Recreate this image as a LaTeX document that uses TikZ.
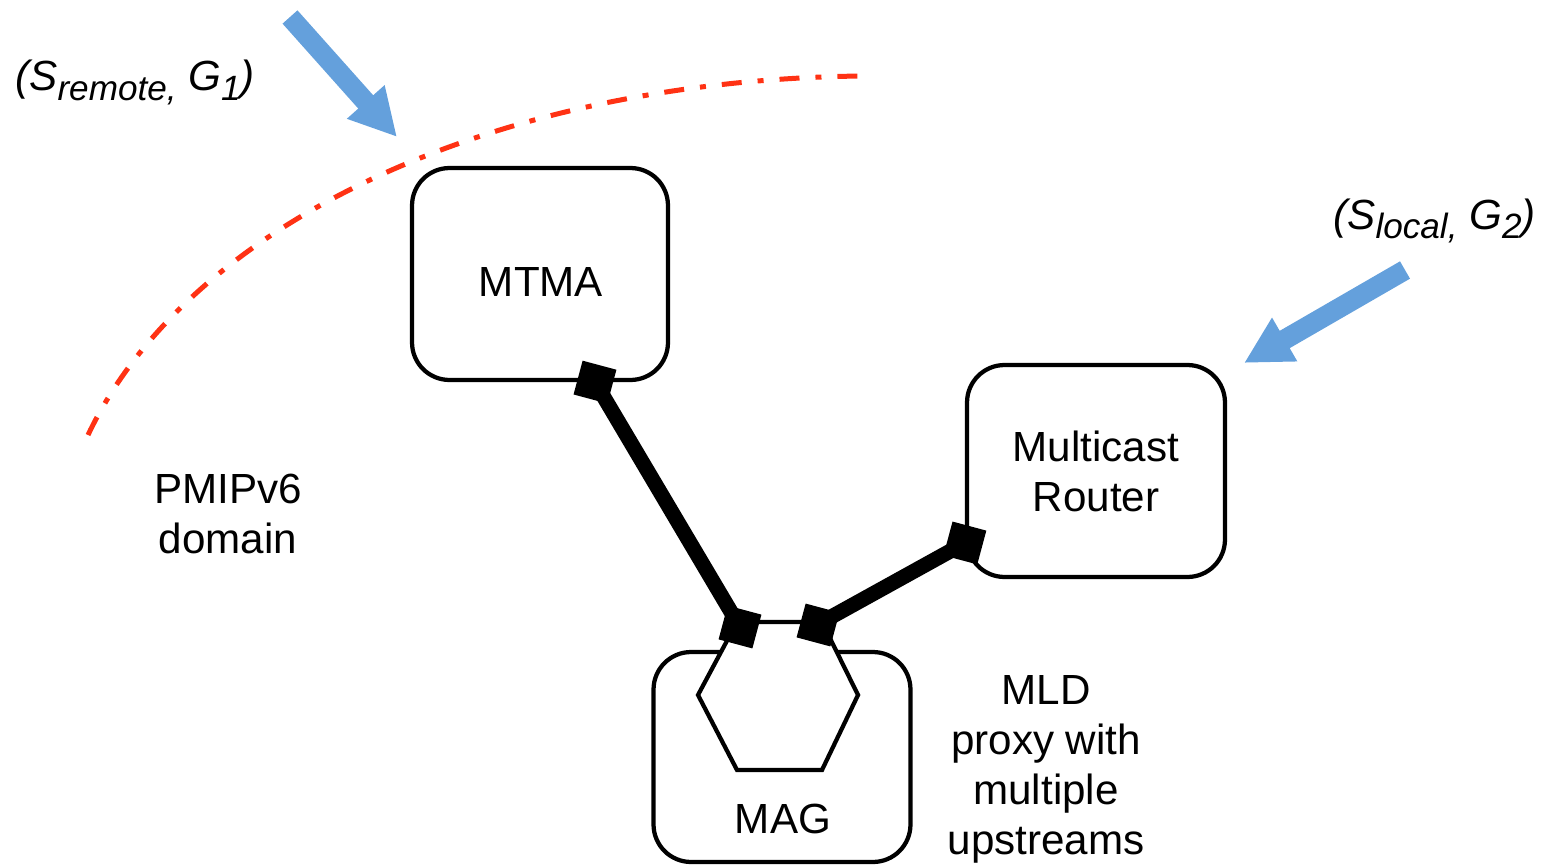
\documentclass[tikz,border=0pt]{standalone}
\usepackage{fontspec}
\setmainfont{Liberation Sans}
\usetikzlibrary{arrows.meta}
\definecolor{flowblue}{RGB}{100,160,220}
\definecolor{domainred}{RGB}{255,50,20}

\begin{document}
\begin{tikzpicture}[x=0.02cm,y=-0.02cm,
   box/.style={draw,line width=0.085cm,rounded corners=0.75cm,fill=white,
      inner sep=0pt,align=center,font=\fontsize{24}{28.5}\selectfont},
   lbl/.style={inner sep=0pt,align=center,font=\fontsize{24}{28.5}\selectfont},
   flowlbl/.style={inner sep=0pt,font=\fontsize{24}{28}\selectfont\itshape},
   flow/.style={flowblue,line width=0.4cm,-{Triangle[length=0.94cm,width=0.94cm]}},
   link/.style={line width=0.3cm},
   port/.style={fill,inner sep=0pt,minimum size=0.7cm,rotate=-15}]
   \useasboundingbox (0,0) rectangle (1545,865);
   % Domain border
   \draw[domainred,line width=0.1cm,
      dash pattern=on 0.4cm off 0.32cm on 0.12cm off 0.32cm]
      (88,435) .. controls (190,220) and (500,80) .. (862,76);
   \node[lbl,anchor=north] (domain) at (228,474) {PMIPv6\\domain};
   % Boxes
   \node[box,minimum width=5.12cm,minimum height=4.24cm] (mtma) at (540,274) {};
   \node[lbl] (mtmaname) at (541,282) {MTMA};
   \node[box,minimum width=5.16cm,minimum height=4.24cm] (router) at (1096,471) {Multicast\\Router};
   \node[box,minimum width=5.14cm,minimum height=4.2cm] (mag) at (782,757) {};
   \node[lbl,anchor=base] (magname) at (783,833) {MAG};
   \node[lbl,anchor=north] (proxy) at (1046,675) {MLD\\proxy with\\multiple\\upstreams};
   % Proxy hexagon
   \draw[line width=0.085cm,fill=white] (737,622) coordinate (hexnw)
      -- (822,622) coordinate (hexne) -- (858,695) -- (822,770)
      -- (737,770) -- (698,695) -- cycle;
   % Upstream links
   \coordinate (mtmaport) at ([xshift=1.1cm]mtma.south);
   \coordinate (routerport) at ([yshift=-1.44cm]router.west);
   \draw[link] (mtmaport) -- (hexnw);
   \draw[link] (routerport) -- (hexne);
   \node[port] (mtmasq) at (mtmaport) {};
   \node[port] (routersq) at (routerport) {};
   \node[port] (hexnwsq) at ([shift={(3,5)}]hexnw) {};
   \node[port] (hexnesq) at ([shift={(-4,3)}]hexne) {};
   % Multicast flows
   \node[flowlbl,anchor=base west] (remote) at (15,91)
      {(S\raisebox{-0.2cm}{\fontsize{20}{24}\selectfont remote,} G\raisebox{-0.2cm}{\fontsize{20}{24}\selectfont 1})};
   \node[flowlbl,anchor=base west] (local) at (1333,229)
      {(S\raisebox{-0.2cm}{\fontsize{20}{24}\selectfont local,} G\raisebox{-0.2cm}{\fontsize{20}{24}\selectfont 2})};
   \coordinate (remotesrc) at (290,17);
   \coordinate (remotedst) at (397,137);
   \coordinate (localsrc) at (1405,270);
   \coordinate (localdst) at (1244,363);
   \draw[flow] (remotesrc) -- (remotedst);
   \draw[flow] (localsrc) -- (localdst);
\end{tikzpicture}
\end{document}
